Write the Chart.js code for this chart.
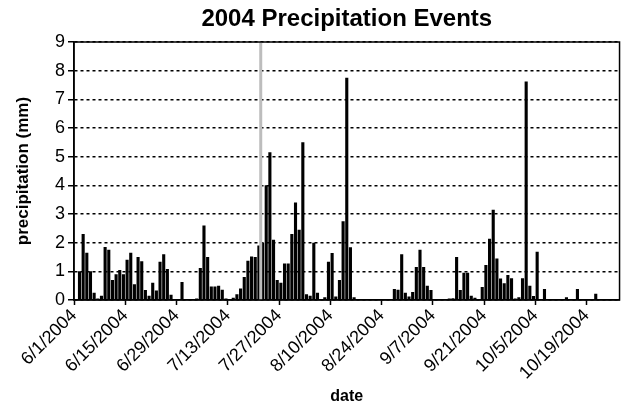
<!DOCTYPE html>
<html>
<head>
<meta charset="utf-8">
<script src="https://cdn.jsdelivr.net/npm/chart.js@4.4.1/dist/chart.umd.min.js"></script>
<style>
  body { margin: 0; background: #fff; }
  #wrap { width: 633px; height: 403px; }
</style>
</head>
<body>
<div id="wrap"><canvas id="precipChart"></canvas></div>
<script>
// daily precipitation (mm)
const june = [0, 1.0, 2.3, 1.65, 1.0, 0.25, 0.05, 0.15, 1.85, 1.75,
  0.7, 0.9, 1.05, 0.9, 1.4, 1.65, 0.55, 1.5, 1.35, 0.35,
  0.15, 0.6, 0.33, 1.33, 1.6, 1.08, 0.18, 0, 0, 0.63];
const july = [0, 0, 0, 0.05, 1.12, 2.6, 1.5, 0.47, 0.47, 0.5,
  0.36, 0.05, 0.02, 0.08, 0.2, 0.4, 0.8, 1.37, 1.52, 1.5,
  1.9, 2.0, 4.0, 5.15, 2.1, 0.7, 0.6, 1.27, 1.27, 2.3, 3.4];
const august = [2.45, 5.5, 0.2, 0.15, 2.0, 0.25, 0, 0.1, 1.33, 1.64,
  0.12, 0.7, 2.75, 7.75, 1.84, 0.1, 0, 0, 0, 0,
  0.02, 0, 0, 0, 0, 0, 0.38, 0.36, 1.6, 0.25, 0.12];
const september = [0.28, 1.15, 1.75, 1.15, 0.5, 0.35, 0, 0, 0, 0.03,
  0.05, 0.06, 1.5, 0.35, 0.95, 0.95, 0.15, 0.08, 0, 0.45,
  1.22, 2.14, 3.15, 1.45, 0.75, 0.58, 0.87, 0.76, 0.05, 0.1];
const october = [0.76, 7.62, 0.5, 0.14, 1.68, 0, 0.38, 0, 0, 0,
  0, 0, 0.1, 0, 0, 0.38, 0, 0, 0, 0,
  0.22, 0, 0, 0, 0, 0, 0];

const tickDates = ['6/1/2004', '6/15/2004', '6/29/2004', '7/13/2004', '7/27/2004',
  '8/10/2004', '8/24/2004', '9/7/2004', '9/21/2004', '10/5/2004', '10/19/2004'];
const markerDate = '7/22/2004';
const chartTitle = '2004 Precipitation Events';

const precip = june.concat(july, august, september, october);

// one category per day starting 6/1/2004
const days = [];
for (let d = new Date(2004, 5, 1); days.length < precip.length; d.setDate(d.getDate() + 1)) {
  days.push((d.getMonth() + 1) + '/' + d.getDate() + '/' + d.getFullYear());
}

const FONT = "'Liberation Sans', Arial, sans-serif";
const dayWidth = (628 - 74) / days.length;

// title over the plot, grey marker line, black box round the plot
const framePlugin = {
  id: 'frame',
  afterDatasetsDraw(chart) {
    const { ctx, chartArea: a, scales: { x } } = chart;
    const mx = x.getPixelForValue(days.indexOf(markerDate)) - a.width / days.length / 2;
    ctx.save();
    ctx.strokeStyle = '#bdbdbd';
    ctx.lineWidth = 3;
    ctx.beginPath();
    ctx.moveTo(mx, a.top);
    ctx.lineTo(mx, a.bottom);
    ctx.stroke();
    ctx.strokeStyle = '#000';
    ctx.lineWidth = 1.5;
    ctx.strokeRect(a.left, a.top, a.width, a.height);
    ctx.fillStyle = '#000';
    ctx.font = 'bold 24px ' + FONT;
    ctx.textAlign = 'center';
    ctx.textBaseline = 'middle';
    ctx.fillText(chartTitle, (a.left + a.right) / 2, 19);
    ctx.restore();
  }
};

new Chart(document.getElementById('precipChart'), {
  type: 'bar',
  data: {
    labels: days,
    datasets: [{
      label: 'precipitation',
      data: precip,
      backgroundColor: '#000',
      borderWidth: 0,
      barPercentage: 0.85,
      categoryPercentage: 1
    }]
  },
  options: {
    responsive: true,
    maintainAspectRatio: false,
    animation: false,
    layout: { padding: { left: 0, right: 5, top: 42, bottom: 0 } },
    plugins: {
      legend: { display: false },
      tooltip: { enabled: false },
      title: { display: false }
    },
    scales: {
      x: {
        offset: true,
        grid: {
          offset: true,
          drawOnChartArea: false,
          tickLength: 5,
          tickWidth: 1.5,
          tickColor: c => tickDates.includes(days[c.index]) ? '#000' : 'rgba(0,0,0,0)'
        },
        border: { color: '#000', width: 1.5 },
        ticks: {
          autoSkip: false,
          maxRotation: 45,
          minRotation: 45,
          padding: 0,
          labelOffset: -dayWidth / 2,
          color: '#000',
          font: { family: FONT, size: 18 },
          callback: (v, i) => tickDates.includes(days[i]) ? days[i] : ''
        },
        title: {
          display: true,
          text: 'date',
          color: '#000',
          font: { family: FONT, size: 16, weight: 'bold' },
          padding: { top: 0, bottom: -3 }
        },
        afterFit: s => { s.height = 103; }
      },
      y: {
        min: 0,
        max: 9,
        grid: { color: '#000', lineWidth: 1.5, tickLength: 6 },
        border: { color: '#000', width: 1.5, dash: [3, 3] },
        ticks: {
          stepSize: 1,
          padding: 3,
          color: '#000',
          font: { family: FONT, size: 18 }
        },
        title: {
          display: true,
          text: 'precipitation (mm)',
          color: '#000',
          font: { family: FONT, size: 17, weight: 'bold' },
          padding: { top: 13 }
        },
        afterFit: s => { s.width = 74; }
      }
    }
  },
  plugins: [framePlugin]
});
</script>
</body>
</html>
